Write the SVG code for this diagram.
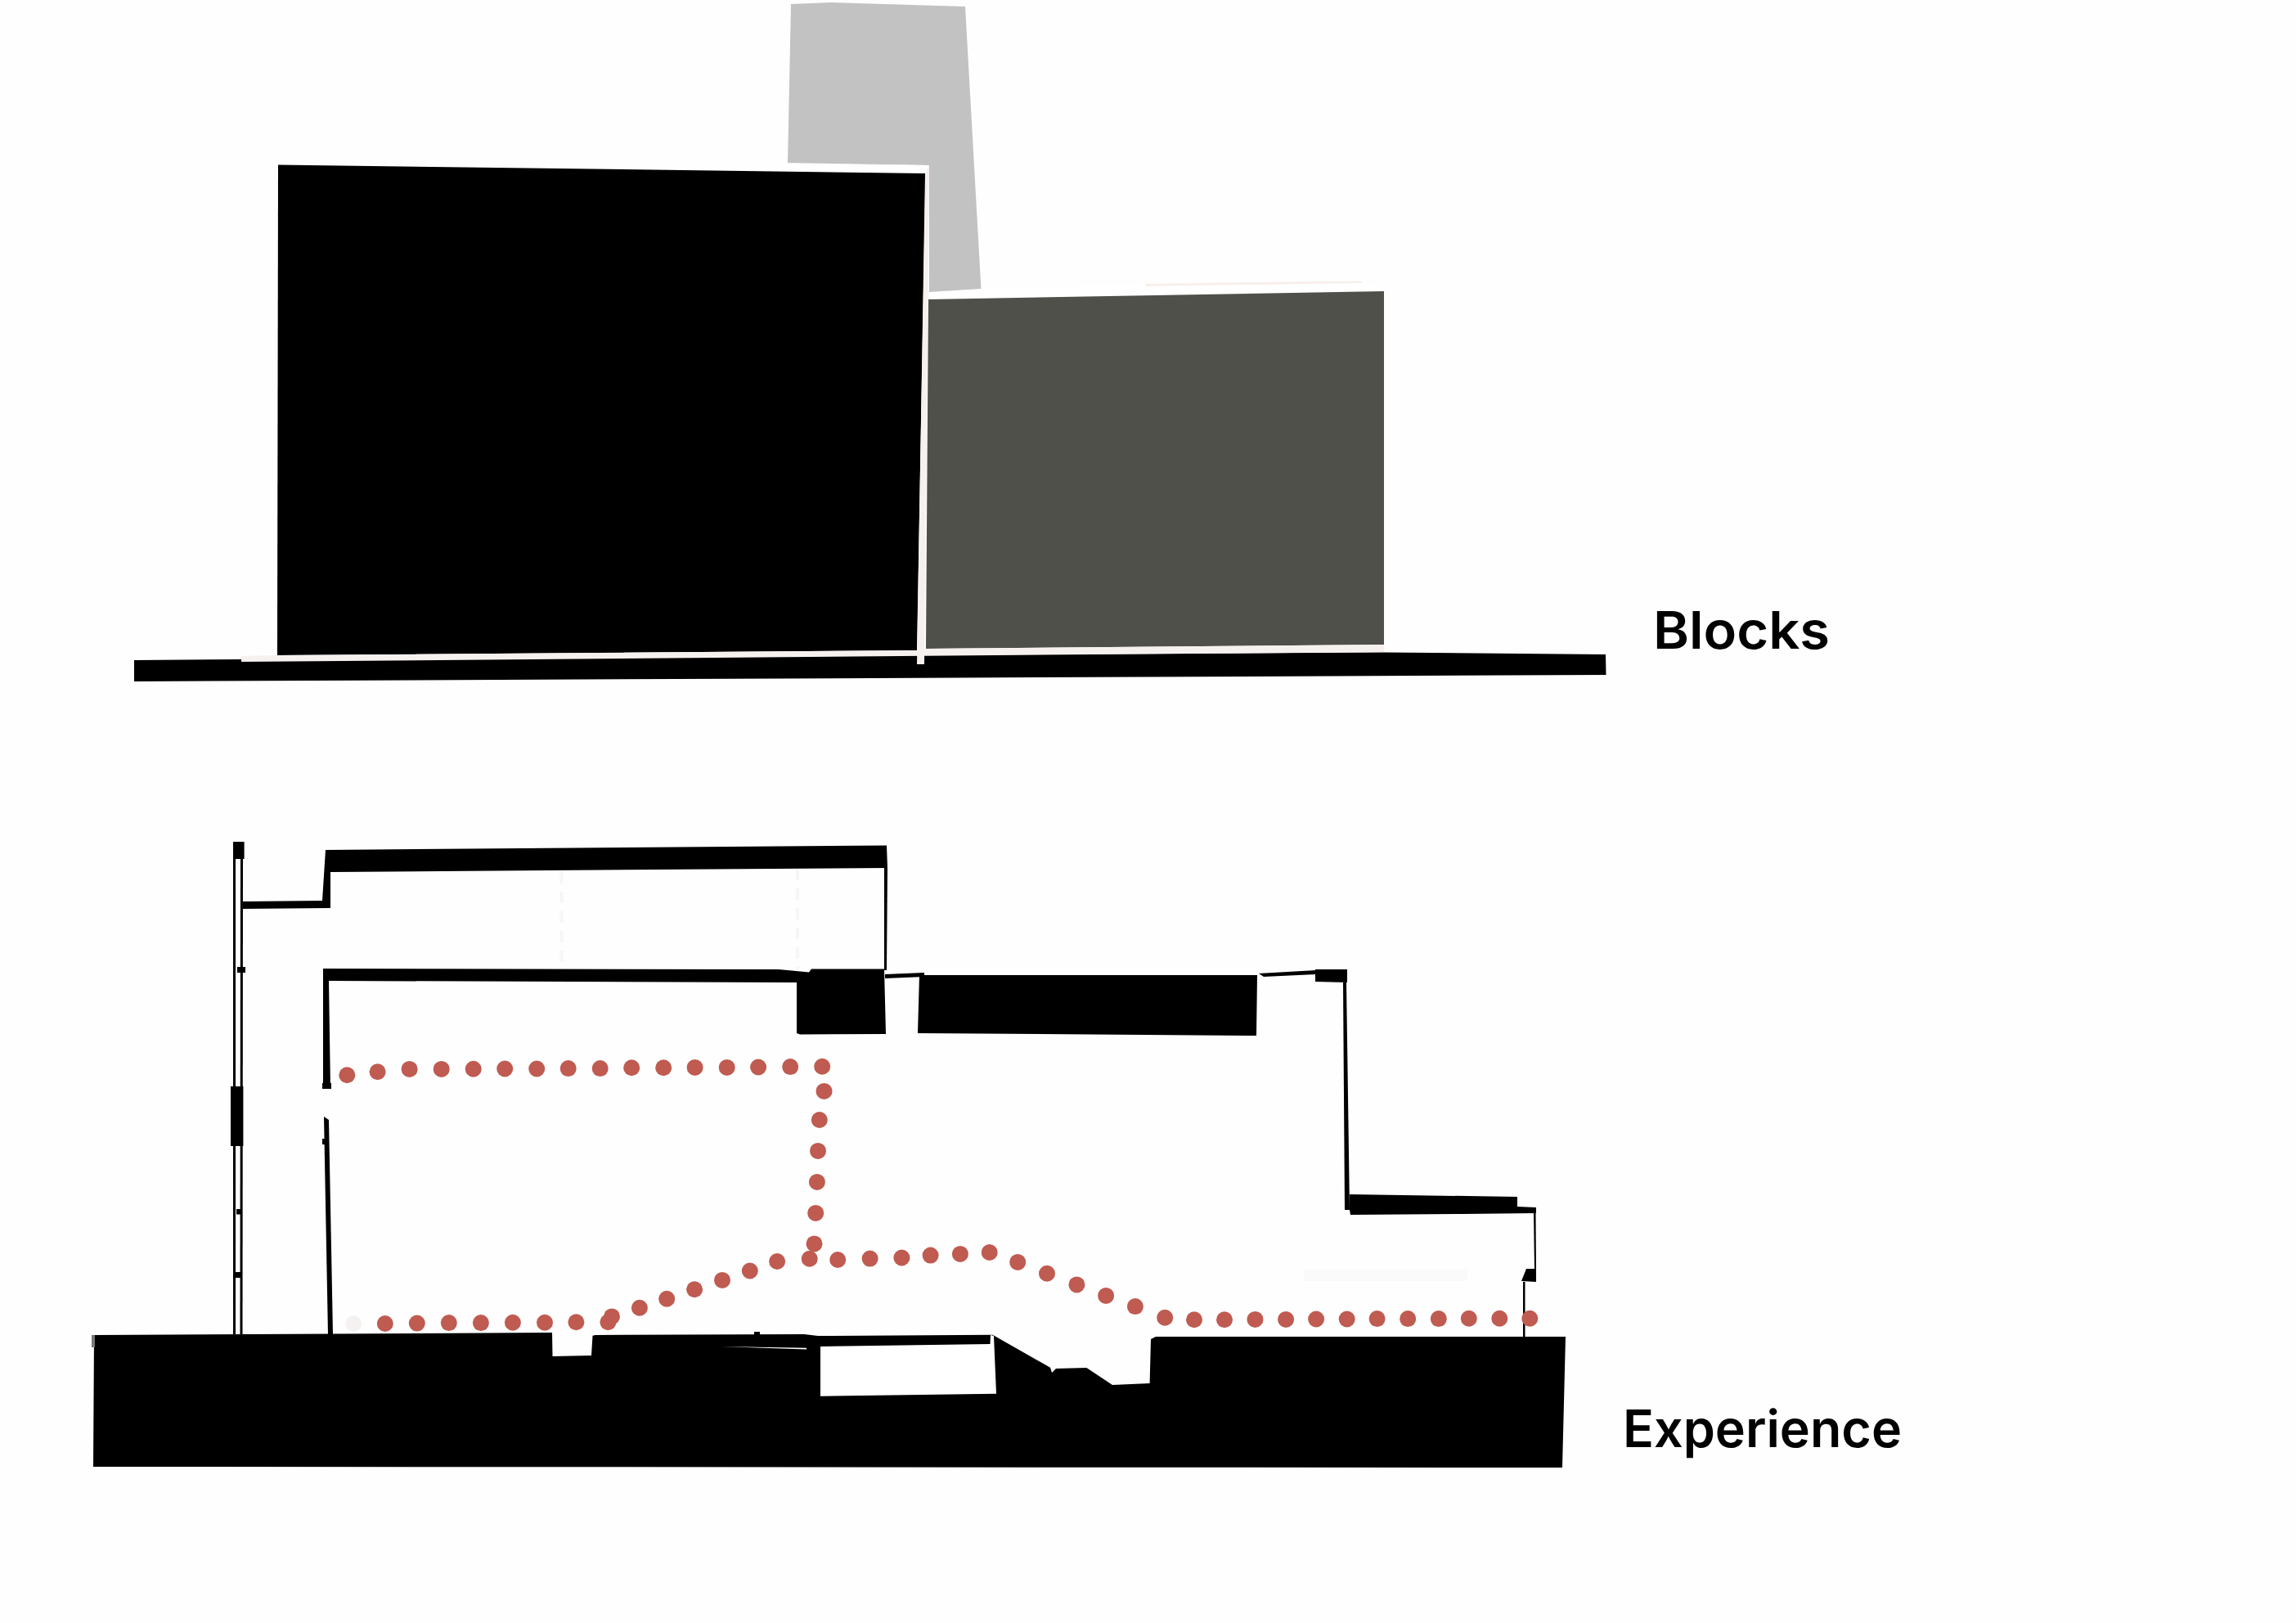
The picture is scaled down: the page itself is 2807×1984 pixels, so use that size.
<svg xmlns="http://www.w3.org/2000/svg" width="2807" height="1984" viewBox="0 0 2807 1984">
<style>
.k{fill:#000}
.w{fill:#fff}
.h{fill:#f6f1ef}
.d{fill:#bf5b51}
.f{fill:none;stroke:#f6f6f6;stroke-width:4;stroke-dasharray:14 10}
.l{font-family:Inter,"Liberation Sans",sans-serif;font-weight:600;font-size:63px;fill:#000}
</style>
<rect width="2807" height="1984" fill="#fefefe"/>
<g id="blocks">
<polygon fill="#c2c2c2" points="967,5 1016,3 1180,8 1199.5,354 1136,358 1136,202 963,200"/>
<polygon class="w" points="956,199 1136,202 1136,214 1000,214"/>
<polygon class="w" points="1136,357 1199.500,353 1400,347 1665,345 1692,354 1136,368"/>
<polygon fill="#f8efea" points="1400,347 1600,344 1665,344 1665,346 1400,350"/>
<polygon class="k" points="340,201.5 1131.5,212 1121,795 339,801"/>
<polygon fill="#4f504a" points="1135,366 1692,356 1692,788 1132,793"/>
<polygon class="k" points="164,807 295,806 1692,797.500 1963,800 1963.500,825 164,833"/>
<polygon class="h" points="295,802 339,801 1121,795 1132,793 1692,788 1692,797 295,809"/>
<polygon class="h" points="1131,212 1136,202 1130,812 1121,812"/>
</g>
<g id="section">
<polygon class="k" points="115,1632 675,1629 675.5,1658 723,1657 724.5,1632.7 728,1632 983,1631 1000,1633 1213.6,1631.7 1284,1671.7 1286,1678 1291,1673 1328.4,1672 1360,1693 1405.6,1691 1407,1637 1413,1634 1914,1634 1910,1794 114,1793"/>
<polygon class="w" points="1003,1646 1210.5,1643 1211,1632 1215,1633 1218,1703.7 1003,1706.7"/>
<polygon class="w" points="881,1646 986,1647.7 986,1649.500"/>
<rect x="922" y="1628" width="7" height="4" class="k"/>
<rect x="112" y="1632" width="4" height="15" fill="#777"/>
<polygon class="k" points="398,1039 1084,1033.5 1085,1061 404,1066 404,1110 297,1111 297,1102 394,1101"/>
<polygon class="k" points="1081,1061 1085,1061 1084,1186 1081,1186"/>
<polygon class="k" points="395,1184 952,1185 989,1188.5 992,1184.5 1081,1184.5 1083,1264 978,1264.5 974,1263 974,1201 402,1199 404,1331 395,1331"/>
<polygon class="k" points="396,1365 402,1369 407,1631 401,1631"/>
<rect x="394" y="1324" width="11" height="7" class="k"/>
<rect x="394" y="1392" width="7" height="7" class="k"/>
<rect x="285" y="1029" width="13.6" height="21" class="k"/>
<rect x="285" y="1050" width="3" height="581" class="k"/>
<polygon class="k" points="294,1050 297,1050 296.5,1631 293.500,1631"/>
<rect x="282" y="1328" width="15.400" height="73" class="k"/>
<rect x="290" y="1182" width="10" height="7" class="k"/>
<rect x="289" y="1478" width="6" height="6.500" class="k"/>
<rect x="287" y="1555" width="9" height="7" class="k"/>
<path class="f" d="M686.500 1066V1184M975 1062V1185"/>
<polygon class="k" points="1082,1191 1130,1189 1130,1194 1082,1196"/>
<polygon class="k" points="1124,1192 1537,1192 1536,1266 1122,1263"/>
<polygon class="k" points="1539,1190 1609,1186 1609,1191 1545,1194"/>
<polygon class="k" points="1608,1185 1647,1185 1647,1201 1608,1200"/>
<polygon class="k" points="1642,1201 1646,1201 1650,1479 1644,1479"/>
<polygon class="k" points="1650,1460 1855,1463 1855,1475 1878,1476 1878,1483 1788,1484 1651,1485 1650,1479"/>
<polygon class="k" points="1875,1483 1877.500,1483 1878,1552 1876,1552"/>
<polygon class="k" points="1866,1551 1878,1551 1878,1567 1860,1566"/>
<rect x="1862" y="1567" width="2.500" height="67" class="k"/>
<rect x="1594" y="1552" width="200" height="14" fill="#fafafa"/>
</g>
<g id="route">
<circle cx="432.300" cy="1618" r="10" fill="#f6f1f1"/>
<g class="d">
<circle cx="424.300" cy="1314.300" r="10"/><circle cx="461.600" cy="1310.200" r="10"/><circle cx="500.600" cy="1306.900" r="10"/><circle cx="539.700" cy="1306.900" r="10"/><circle cx="578.700" cy="1306.700" r="10"/><circle cx="617.200" cy="1306.500" r="10"/><circle cx="656.200" cy="1306.500" r="10"/><circle cx="694.700" cy="1306.100" r="10"/><circle cx="733.700" cy="1306.100" r="10"/><circle cx="772.200" cy="1305.300" r="10"/><circle cx="811.200" cy="1305.300" r="10"/><circle cx="849.600" cy="1304.900" r="10"/><circle cx="888.700" cy="1304.900" r="10"/><circle cx="927.100" cy="1304.500" r="10"/><circle cx="966.200" cy="1304.100" r="10"/><circle cx="1005.200" cy="1303.700" r="10"/>
<circle cx="1007.500" cy="1333.900" r="10"/><circle cx="1001.800" cy="1369" r="10"/><circle cx="1000" cy="1406.900" r="10"/><circle cx="998.900" cy="1444.900" r="10"/><circle cx="997.200" cy="1482.900" r="10"/><circle cx="995.500" cy="1520.400" r="10"/>
<circle cx="470.800" cy="1618" r="10"/><circle cx="509.800" cy="1617.600" r="10"/><circle cx="548.800" cy="1617.100" r="10"/><circle cx="587.900" cy="1617.100" r="10"/><circle cx="626.900" cy="1616.700" r="10"/><circle cx="666" cy="1616.700" r="10"/><circle cx="704.400" cy="1616.300" r="10"/><circle cx="743.400" cy="1616.300" r="10"/>
<circle cx="748" cy="1609.400" r="10"/><circle cx="781.900" cy="1598.800" r="10"/><circle cx="815.200" cy="1587.800" r="10"/><circle cx="849.100" cy="1576.300" r="10"/><circle cx="883" cy="1564.900" r="10"/><circle cx="916.800" cy="1553.500" r="10"/><circle cx="950.100" cy="1542" r="10"/><circle cx="989.700" cy="1538.800" r="10"/>
<circle cx="1024.200" cy="1540" r="10"/><circle cx="1063.600" cy="1538.600" r="10"/><circle cx="1102.400" cy="1537.500" r="10"/><circle cx="1137.600" cy="1534.600" r="10"/><circle cx="1173.900" cy="1532.900" r="10"/><circle cx="1209.700" cy="1531" r="10"/><circle cx="1244.200" cy="1542.900" r="10"/><circle cx="1280" cy="1556.800" r="10"/><circle cx="1316.400" cy="1570.400" r="10"/><circle cx="1352.100" cy="1583.900" r="10"/><circle cx="1387.900" cy="1597.100" r="10"/><circle cx="1424.200" cy="1610.700" r="10"/><circle cx="1460" cy="1613.200" r="10"/><circle cx="1497" cy="1613.200" r="10"/><circle cx="1534.500" cy="1612.900" r="10"/><circle cx="1572.100" cy="1612.900" r="10"/><circle cx="1609.100" cy="1612.500" r="10"/><circle cx="1646.700" cy="1612.500" r="10"/><circle cx="1683.600" cy="1612.100" r="10"/><circle cx="1721.200" cy="1612.100" r="10"/><circle cx="1758.800" cy="1612.100" r="10"/><circle cx="1795.800" cy="1611.800" r="10"/><circle cx="1833.300" cy="1611.800" r="10"/><circle cx="1870.300" cy="1611.800" r="10"/>
</g>
</g>
<text class="l" x="2021" y="793" textLength="216" lengthAdjust="spacingAndGlyphs">Blocks</text>
<text class="l" x="1984" y="1769" textLength="341" lengthAdjust="spacingAndGlyphs">Experience</text>
</svg>
